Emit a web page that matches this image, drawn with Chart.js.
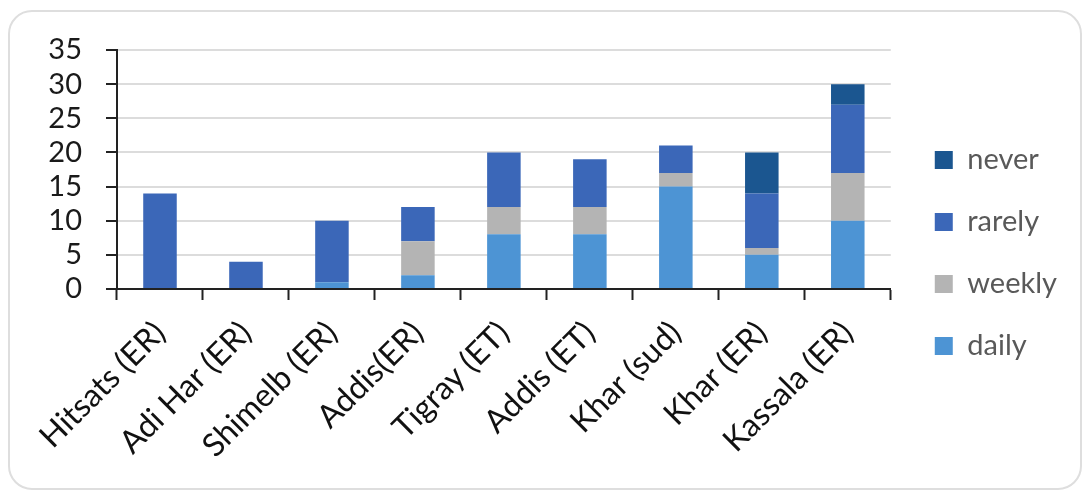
<!DOCTYPE html>
<html>
<head>
<meta charset="utf-8">
<title>Frequency by site</title>
<script src="https://cdn.jsdelivr.net/npm/chart.js@4/dist/chart.umd.min.js"></script>
<style>
  html, body { margin: 0; padding: 0; background: #ffffff; }
  #wrap { position: relative; width: 1086px; height: 492px; }
  #frame {
    position: absolute; left: 8px; top: 10px; width: 1070px; height: 476px;
    border: 2px solid #dedede; border-radius: 24px; box-sizing: content-box;
  }
  #chart { position: absolute; left: 0; top: 0; }
</style>
</head>
<body>
<div id="wrap">
  <div id="frame"></div>
  <canvas id="chart" width="1086" height="492"></canvas>
</div>
<script>
// Sites along the x axis
const categories = ['Hitsats (ER)', 'Adi Har (ER)', 'Shimelb (ER)', 'Addis(ER)', 'Tigray (ET)',
                    'Addis (ET)', 'Khar (sud)', 'Khar (ER)', 'Kassala (ER)'];

// Counts per answer, stacked bottom to top: daily, weekly, rarely, never
const daily  = [0, 0, 1, 2, 8, 8, 15, 5, 10];
const weekly = [0, 0, 0, 5, 4, 4, 2, 1, 7];
const rarely = [14, 4, 9, 5, 8, 7, 4, 8, 10];
const never  = [0, 0, 0, 0, 0, 0, 0, 6, 3];

// Y axis range
const yMin = 0;
const yMax = 35;
const yStep = 5;

const FONT = 'Lato, "Open Sans", "DejaVu Sans", sans-serif';

// Nudges the legend to the right of the plot so it sits clear of the bars
const legendShift = {
  id: 'legendShift',
  afterLayout(chart) {
    const lg = chart.legend;
    if (lg) { lg.left += 11; lg.right += 11; }
  }
};

function series(label, data, color) {
  return {
    label, data,
    backgroundColor: color,
    borderWidth: 0,
    barPercentage: 0.39,
    categoryPercentage: 1.0,
    stack: 'all'
  };
}

new Chart(document.getElementById('chart'), {
  type: 'bar',
  data: {
    labels: categories,
    datasets: [
      series('daily', daily, '#4d94d4'),
      series('weekly', weekly, '#b4b4b4'),
      series('rarely', rarely, '#3b67b8'),
      series('never', never, '#1b5690')
    ]
  },
  options: {
    responsive: false,
    devicePixelRatio: 1,
    animation: false,
    layout: { padding: { left: 10, right: 30, top: 50, bottom: 36 } },
    plugins: {
      tooltip: { enabled: false },
      title: { display: false },
      legend: {
        position: 'right',
        reverse: true,
        labels: {
          boxWidth: 18,
          boxHeight: 18,
          padding: 33,
          color: '#595959',
          font: { family: FONT, size: 29 }
        }
      }
    },
    scales: {
      x: {
        stacked: true,
        offset: true,
        grid: {
          display: true,
          offset: true,
          drawOnChartArea: false,
          drawTicks: true,
          tickLength: 11,
          tickColor: '#222222',
          tickWidth: 2
        },
        border: { display: true, color: '#222222', width: 2 },
        ticks: {
          autoSkip: false,
          minRotation: 45,
          maxRotation: 45,
          padding: 14,
          color: '#111111',
          font: { family: FONT, size: 32 }
        },
        afterFit(scale) { scale.height = 492 - 36 - 289; }
      },
      y: {
        stacked: true,
        min: yMin,
        max: yMax,
        grid: {
          color: '#dcdcdc',
          lineWidth: 2,
          drawTicks: true,
          tickLength: 11,
          tickColor: '#222222',
          tickWidth: 2
        },
        border: { display: true, color: '#222222', width: 2 },
        ticks: {
          autoSkip: false,
          stepSize: yStep,
          padding: 24,
          color: '#1a1a1a',
          font: { family: FONT, size: 29, lineHeight: 1 }
        },
        afterFit(scale) { scale.width = 117 - 10; }
      }
    }
  },
  plugins: [legendShift]
});
</script>
</body>
</html>
